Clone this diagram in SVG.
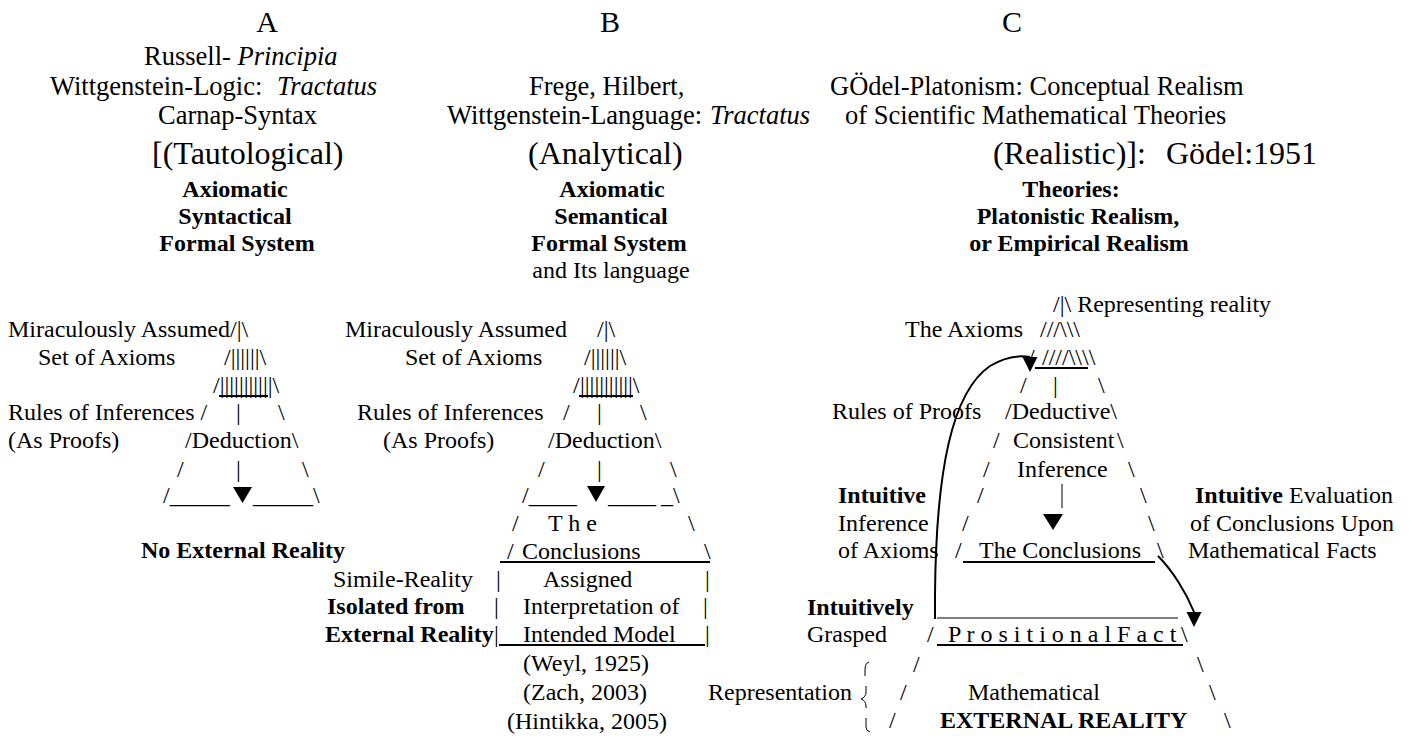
<svg xmlns="http://www.w3.org/2000/svg" width="1410" height="741" viewBox="0 0 1410 741">
<style>
text{font-family:"Liberation Serif","Times New Roman",serif;fill:#000}
.h{font-size:26.5px}
.g{font-size:32px}
.l{font-size:30px}
.t{font-size:24px}
.b{font-size:24px;font-weight:bold}
.i{font-style:italic}
.m{text-anchor:middle}
.u{stroke:#000;stroke-width:2;fill:none}
.thin{stroke:#000;stroke-width:1;fill:none}
.arc{stroke:#000;stroke-width:2;fill:none}
.tri{fill:#000}
</style>
<defs>
<marker id="ah" viewBox="0 0 16 16" refX="0" refY="8" markerWidth="15" markerHeight="16" markerUnits="userSpaceOnUse" orient="90">
<path d="M0,0 L16,8 L0,16 z" fill="#000"/>
</marker>
</defs>
<rect width="1410" height="741" fill="#fff"/>

<g id="header-a">
<text class="l m" x="267" y="32">A</text>
<text class="h" x="144" y="65">Russell- <tspan class="i">Principia</tspan></text>
<text class="h" x="50" y="95">Wittgenstein-Logic:</text>
<text class="h i" x="277" y="95">Tractatus</text>
<text class="h" x="158" y="124">Carnap-Syntax</text>
<text class="g" x="152" y="164">[(Tautological)</text>
<text class="b m" x="235" y="197">Axiomatic</text>
<text class="b m" x="235" y="224">Syntactical</text>
<text class="b m" x="237" y="251">Formal System</text>
</g>

<g id="header-b">
<text class="l m" x="610" y="32">B</text>
<text class="h" x="529" y="95">Frege, Hilbert,</text>
<text class="h" x="447" y="124">Wittgenstein-Language:</text>
<text class="h i" x="710" y="124">Tractatus</text>
<text class="g" x="528" y="164">(Analytical)</text>
<text class="b m" x="612" y="197">Axiomatic</text>
<text class="b m" x="611" y="224">Semantical</text>
<text class="b m" x="609" y="251">Formal System</text>
<text class="t m" x="611" y="278">and Its language</text>
</g>

<g id="header-c">
<text class="l m" x="1012" y="32">C</text>
<text class="h" x="830" y="95">GÖdel-Platonism: Conceptual Realism</text>
<text class="h" x="845" y="124">of Scientific Mathematical Theories</text>
<text class="g" x="993" y="164">(Realistic)]:</text>
<text class="g" x="1166" y="164">Gödel:1951</text>
<text class="b m" x="1071" y="197">Theories:</text>
<text class="b m" x="1078" y="224">Platonistic Realism,</text>
<text class="b m" x="1079" y="251">or Empirical Realism</text>
</g>

<g id="tree-a">
<text class="t" x="8" y="337">Miraculously Assumed/|\</text>
<text class="t" x="38" y="365">Set of Axioms</text>
<text class="t" x="224" y="365">/||||||\</text>
<text class="t" x="213" y="393">/|||||||||||\</text>
<line class="u" x1="219" y1="396" x2="268" y2="396"/>
<text class="t" x="8" y="420">Rules of Inferences /</text>
<text class="t" x="236" y="420">|</text>
<text class="t" x="278" y="420">\</text>
<text class="t" x="8" y="448">(As Proofs)</text>
<text class="t" x="185" y="448">/Deduction\</text>
<text class="t" x="177" y="477">/</text>
<text class="t" x="236" y="477">|</text>
<text class="t" x="302" y="477">\</text>
<text class="t" x="163" y="503">/_____</text>
<polygon class="tri" points="233,487 252,487 242.5,503"/>
<text class="t" x="253" y="503">_____\</text>
<text class="b" x="141" y="558">No External Reality</text>
</g>

<g id="tree-b">
<text class="t" x="345" y="337">Miraculously Assumed</text>
<text class="t" x="597" y="337">/|\</text>
<text class="t" x="405" y="365">Set of Axioms</text>
<text class="t" x="584" y="365">/||||||\</text>
<text class="t" x="573" y="393">/</text>
<text class="t" x="580" y="393">|||||||||||\</text>
<line class="u" x1="579" y1="396" x2="633" y2="396"/>
<text class="t" x="357" y="420">Rules of Inferences</text>
<text class="t" x="563" y="420">/</text>
<text class="t" x="597" y="420">|</text>
<text class="t" x="640" y="420">\</text>
<text class="t" x="383" y="448">(As Proofs)</text>
<text class="t" x="548" y="448">/Deduction\</text>
<text class="t" x="538" y="477">/</text>
<text class="t" x="597" y="477">|</text>
<text class="t" x="670" y="477">\</text>
<text class="t" x="522" y="503">/____</text>
<polygon class="tri" points="587,486 605,486 596,502"/>
<text class="t" x="608" y="503">____</text>
<text class="t" x="661" y="503">_\</text>
<text class="t" x="512" y="531">/</text>
<text class="t" x="548" y="531">T h e</text>
<text class="t" x="688" y="531">\</text>
<text class="t" x="507" y="559">/</text>
<text class="t" x="522" y="559">Conclusions</text>
<text class="t" x="704" y="559">\</text>
<line class="u" x1="500" y1="562" x2="710" y2="562"/>
<text class="t" x="333" y="587">Simile-Reality</text>
<text class="t" x="496" y="587">|</text>
<text class="t" x="543" y="587">Assigned</text>
<text class="t" x="705" y="587">|</text>
<text class="b" x="327" y="614">Isolated from</text>
<text class="t" x="494" y="614">|</text>
<text class="t" x="523" y="614">Interpretation of</text>
<text class="t" x="703" y="614">|</text>
<text class="b" x="325" y="642">External Reality</text>
<text class="t" x="494" y="642">|</text>
<text class="t" x="523" y="642">Intended Model</text>
<text class="t" x="705" y="642">|</text>
<line class="u" x1="499" y1="645" x2="705" y2="645"/>
<text class="t" x="523" y="671">(Weyl, 1925)</text>
<text class="t" x="523" y="700">(Zach, 2003)</text>
<text class="t" x="507" y="729">(Hintikka, 2005)</text>
</g>

<g id="tree-c">
<text class="t" x="1053" y="312">/|\ Representing reality</text>
<text class="t" x="905" y="337">The Axioms</text>
<text class="t" x="1040" y="337">///\\\</text>
<text class="t" x="1028" y="365">/</text>
<text class="t" x="1042" y="365">////\\\\</text>
<line class="u" x1="1035" y1="368" x2="1088" y2="368"/>
<text class="t" x="1020" y="393">/</text>
<text class="t" x="1053" y="393">|</text>
<text class="t" x="1098" y="393">\</text>
<text class="t" x="832" y="419">Rules of Proofs</text>
<text class="t" x="1005" y="419">/Deductive\</text>
<text class="t" x="993" y="448">/</text>
<text class="t" x="1013" y="448">Consistent</text>
<text class="t" x="1117" y="448">\</text>
<text class="t" x="983" y="477">/</text>
<text class="t" x="1017" y="477">Inference</text>
<text class="t" x="1128" y="477">\</text>
<text class="b" x="838" y="503">Intuitive</text>
<text class="t" x="977" y="503">/</text>
<line class="thin" x1="1062" y1="484" x2="1062" y2="508"/>
<text class="t" x="1140" y="503">\</text>
<text class="t" x="1195" y="503"><tspan class="b">Intuitive</tspan> Evaluation</text>
<text class="t" x="838" y="531">Inference</text>
<text class="t" x="962" y="531">/</text>
<polygon class="tri" points="1043,514 1063,514 1053,530"/>
<text class="t" x="1148" y="531">\</text>
<text class="t" x="1190" y="531">of Conclusions Upon</text>
<text class="t" x="838" y="558">of Axioms</text>
<text class="t" x="955" y="558">/</text>
<text class="t" x="979" y="558">The Conclusions</text>
<line class="u" x1="963" y1="562" x2="1155" y2="562"/>
<text class="t" x="1157" y="558">\</text>
<text class="t" x="1188" y="558">Mathematical Facts</text>
<text class="b" x="807" y="615">Intuitively</text>
<line class="thin" x1="937" y1="618" x2="1178" y2="618"/>
<text class="t" x="807" y="642">Grasped</text>
<text class="t" x="927" y="642">/</text>
<text class="t" x="948" y="642">P r o s i t i o n a l F a c t</text>
<text class="t" x="1181" y="642">\</text>
<line class="u" x1="937" y1="645" x2="1183" y2="645"/>
<text class="t" x="913" y="672">/</text>
<text class="t" x="1197" y="672">\</text>
<text class="t" x="708" y="700">Representation</text>
<text class="t" x="900" y="700">/</text>
<text class="t" x="968" y="700">Mathematical</text>
<text class="t" x="1209" y="700">\</text>
<text class="t" x="889" y="728">/</text>
<text class="b" x="940" y="728">EXTERNAL REALITY</text>
<text class="t" x="1224" y="728">\</text>
<path class="thin" d="M869,662 Q865,663 865,670 L865,676"/>
<path class="thin" d="M866,686 L866,692 Q866,697 861,699 Q866,701 866,706 L866,708"/>
<path class="thin" d="M866,718 L866,727 Q866,731 870,732"/>
</g>

<g id="connectors">
<path class="arc" d="M935,619 L935,595 C936,470 952,392 990,366 C1005,357 1018,355 1030,357" marker-end="url(#ah)"/>
<path class="arc" d="M1158,556 C1172,570 1186,592 1194,612" marker-end="url(#ah)"/>
</g>
</svg>
